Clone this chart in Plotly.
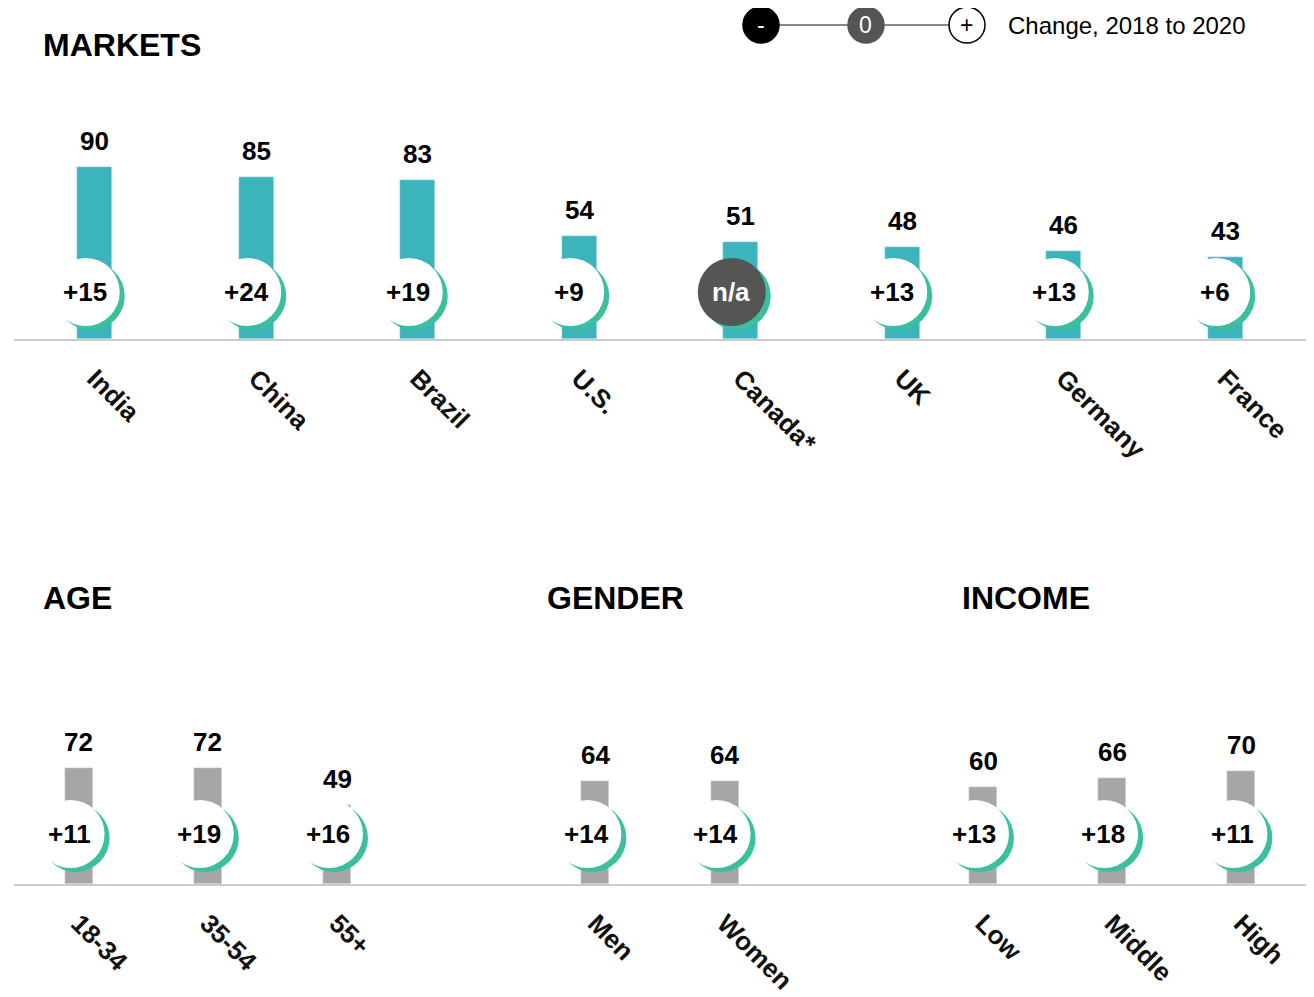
import plotly.graph_objects as go
from plotly.subplots import make_subplots

# markets (top panel)
markets = ["India", "China", "Brazil", "U.S.", "Canada*", "UK", "Germany", "France"]
market_values = [90, 85, 83, 54, 51, 48, 46, 43]
market_change = ["+15", "+24", "+19", "+9", "n/a", "+13", "+13", "+6"]
market_pos = [0, 1, 2, 3, 4, 5, 6, 7]

# demographics (bottom panel)
demo_labels = ["18-34", "35-54", "55+", "Men", "Women", "Low", "Middle", "High"]
demo_values = [72, 72, 49, 64, 64, 60, 66, 70]
demo_change = ["+11", "+19", "+16", "+14", "+14", "+13", "+18", "+11"]
demo_pos = [0, 1, 2, 4, 5, 7, 8, 9]

TEAL = "#3BB4BC"
GREY_BAR = "#A6A6A6"
GREEN = "#3ABF9F"
DARK = "#555555"
FONT = "Arial, Liberation Sans, sans-serif"
W, H = 1306, 989  # page adds an 8px body margin
OFF = 8


def px_x(p):
    return (p - OFF) / W


def px_y(p):
    return 1 - (p - OFF) / H


fig = make_subplots(rows=2, cols=1)

fig.add_trace(go.Bar(x=market_pos, y=market_values, marker_color=TEAL,
                     width=0.217, hoverinfo="skip"), row=1, col=1)
fig.add_trace(go.Bar(x=demo_pos, y=demo_values, marker_color=GREY_BAR,
                     width=0.217, hoverinfo="skip"), row=2, col=1)

x_dom = [px_x(14), px_x(1306)]
axis_style = dict(showline=True, linecolor="#C9CCCC", linewidth=1.5,
                  showgrid=False, zeroline=False, ticks="", tickangle=45,
                  ticklabelstandoff=12, automargin=False,
                  tickfont=dict(family=FONT, size=26, color="#111", weight="bold"))
fig.update_xaxes(domain=x_dom, range=[-0.5, 7.5], tickvals=market_pos,
                 ticktext=markets, row=1, col=1, **axis_style)
fig.update_xaxes(domain=x_dom, range=[-0.5, 9.5], tickvals=demo_pos,
                 ticktext=demo_labels, row=2, col=1, **axis_style)
top_dom = [px_y(339), px_y(100)]
bot_dom = [px_y(884), px_y(648)]
fig.update_yaxes(domain=top_dom, range=[0, 239 / 1.91], visible=False, row=1, col=1)
fig.update_yaxes(domain=bot_dom, range=[0, 236 / 1.61], visible=False, row=2, col=1)

R = 34


def add_change_markers(xref, yref, positions, values, changes, lift, dx):
    for p, v, c in zip(positions, values, changes):
        # green "shadow" crescent, then the disc on top
        fig.add_shape(type="circle", xref=xref, yref=yref, xsizemode="pixel",
                      ysizemode="pixel", xanchor=p, yanchor=0,
                      x0=dx - R + 5, x1=dx + R + 5, y0=lift - R - 4, y1=lift + R - 4,
                      fillcolor=GREEN, line_width=0, layer="above")
        na = c == "n/a"
        fig.add_shape(type="circle", xref=xref, yref=yref, xsizemode="pixel",
                      ysizemode="pixel", xanchor=p, yanchor=0,
                      x0=dx - R, x1=dx + R, y0=lift - R, y1=lift + R,
                      fillcolor=DARK if na else "white", line_width=0, layer="above")
        fig.add_annotation(x=p, y=0, xref=xref, yref=yref, text=c, showarrow=False,
                           xshift=dx - 1, yshift=lift, xanchor="center", yanchor="middle",
                           font=dict(family=FONT, size=26, weight="bold",
                                     color="white" if na else "black"))
        fig.add_annotation(x=p, y=v, xref=xref, yref=yref, text=str(v), showarrow=False,
                           xanchor="center", yanchor="bottom", yshift=9,
                           font=dict(family=FONT, size=26, weight="bold", color="black"))


add_change_markers("x", "y", market_pos, market_values, market_change, 47, -9)
add_change_markers("x2", "y2", demo_pos, demo_values, demo_change, 50, -8)

# section headings
for txt, hx, hy in [("MARKETS", 41, 45), ("AGE", 41, 598),
                    ("GENDER", 545, 598), ("INCOME", 960, 598)]:
    fig.add_annotation(x=px_x(hx), y=px_y(hy), xref="paper", yref="paper", text=txt,
                       showarrow=False, xanchor="left", yanchor="middle",
                       font=dict(family=FONT, size=32, weight="bold", color="black"))

# key at the top right
ky = px_y(25)
fig.add_shape(type="line", xref="paper", yref="paper", x0=px_x(761), x1=px_x(967),
              y0=ky, y1=ky, line=dict(color="#888888", width=2))
key_items = [(761, "black", "black", "-", "white"),
             (866, DARK, DARK, "0", "white"),
             (967, "white", "black", "+", "black")]
for kx, fill, edge, sym, tcol in key_items:
    fig.add_shape(type="circle", xref="paper", yref="paper", xsizemode="pixel",
                  ysizemode="pixel", xanchor=px_x(kx), yanchor=ky,
                  x0=-18, x1=18, y0=-18, y1=18, fillcolor=fill,
                  line=dict(color=edge, width=1.5))
    fig.add_annotation(x=px_x(kx), y=ky, xref="paper", yref="paper", text=sym,
                       showarrow=False, xanchor="center", yanchor="middle",
                       font=dict(family=FONT, size=23, color=tcol))
fig.add_annotation(x=px_x(1006), y=ky, xref="paper", yref="paper",
                   text="Change, 2018 to 2020", showarrow=False, xanchor="left",
                   yanchor="middle", font=dict(family=FONT, size=24, color="black"))

fig.update_layout(width=W, height=H, margin=dict(l=0, r=0, t=0, b=0),
                  plot_bgcolor="white", paper_bgcolor="white", showlegend=False,
                  bargap=0)
fig.write_html("out.html")
